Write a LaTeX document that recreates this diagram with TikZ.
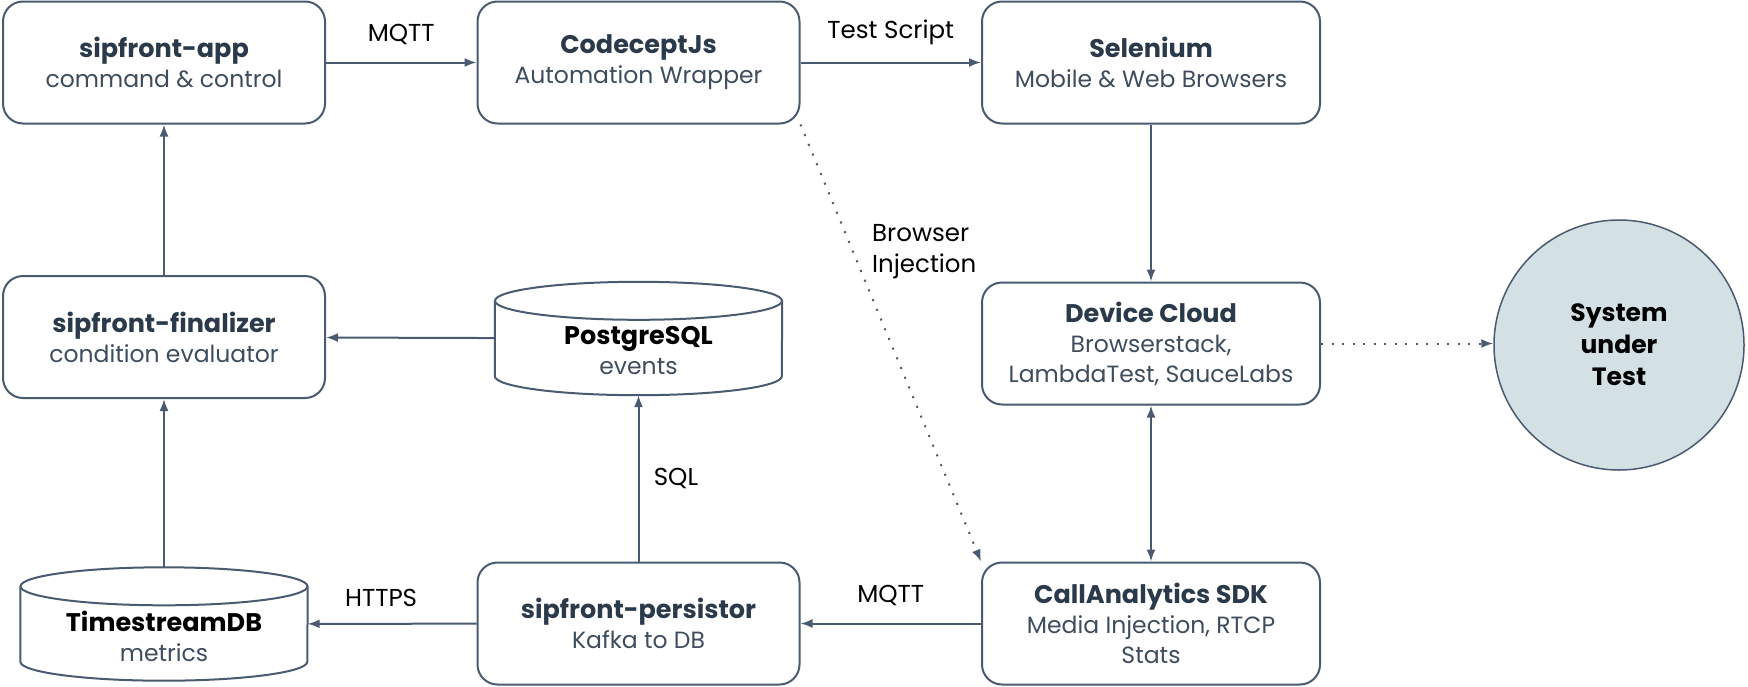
\documentclass[tikz,border=0pt]{standalone}
\usepackage{fontspec}
\setmainfont{Poppins}
\usetikzlibrary{arrows.meta}

\definecolor{edgecol}{HTML}{4A5A70}
\definecolor{titlecol}{HTML}{2B3A4A}
\definecolor{subcol}{HTML}{3E4C5E}
\definecolor{sutfill}{HTML}{D3E1E4}

\newcommand{\headline}[1]{\textcolor{titlecol}{\fontsize{25.5}{30}\selectfont\textbf{#1}}}

\begin{document}
\begin{tikzpicture}[x=1pt, y=-1pt,
    box/.style={rectangle, rounded corners=20pt, draw=edgecol, line width=2pt, minimum width=322pt, minimum height=122pt, align=center, text=subcol, font=\fontsize{23.5}{30}\selectfont},
    widebox/.style={box, minimum width=338pt},
    db/.style={rectangle, minimum width=287pt, minimum height=113pt, inner sep=0pt},
    dbtext/.style={yshift=-12pt, align=center, text=subcol, font=\fontsize{23.5}{30}\selectfont},
    dbline/.style={draw=edgecol, line width=2pt},
    link/.style={draw=edgecol, line width=2pt, -{Latex[length=12pt,width=9pt]}},
    inject/.style={link, line width=2pt, dash pattern=on 2pt off 8.5pt},
    tag/.style={text=black, font=\fontsize{24.5}{31}\selectfont}]

        \useasboundingbox (0,0) rectangle (1748,686);

        % --- TOP ROW ---
        \node[box] (app) at (164,62.5) {\headline{sipfront-app}\\command \& control};
        \node[box] (codecept) at (638.5,62.5) {\headline{CodeceptJs}\\Automation Wrapper};
        \node[widebox] (selenium) at (1151,62.5) {\headline{Selenium}\\Mobile \& Web Browsers};

        % --- MIDDLE ROW ---
        \node[box] (finalizer) at (164,337) {\headline{sipfront-finalizer}\\condition evaluator};
        \node[db, label={[dbtext]center:\headline{\color{black}PostgreSQL}\\events}] (postgres) at (638.5,338.5) {};
        \node[widebox] (device) at (1151,343.5) {\headline{Device Cloud}\\Browserstack,\\LambdaTest, SauceLabs};
        \node[circle, draw=edgecol, line width=1.5pt, fill=sutfill, minimum size=250pt, align=center, font=\fontsize{25}{32}\selectfont\bfseries] (sut) at (1619,345) {System\\under\\Test};

        % --- BOTTOM ROW ---
        \node[db, label={[dbtext]center:\headline{\color{black}TimestreamDB}\\metrics}] (timestream) at (164,624) {};
        \node[box] (persistor) at (638.5,623.5) {\headline{sipfront-persistor}\\Kafka to DB};
        \node[widebox] (callsdk) at (1151,623.5) {\headline{CallAnalytics SDK}\\Media Injection, RTCP\\Stats};

        % cylinder outlines
        \foreach \db in {postgres, timestream} {
            \draw[dbline] ([yshift=-19pt]\db.north) ellipse [x radius=143.5pt, y radius=19pt];
            \draw[dbline] ([yshift=-19pt]\db.north west) -- ([yshift=19pt]\db.south west)
                arc [start angle=180, end angle=360, x radius=143.5pt, y radius=19pt] -- ([yshift=-19pt]\db.north east);
        }

        % connectors
        \draw[link] (app) -- node[tag, above=13pt] {MQTT} (codecept);
        \draw[link] (codecept) -- node[tag, above=13pt] {Test Script} (selenium);
        \draw[link] (selenium) -- (device);
        \draw[link, {Latex[length=12pt,width=9pt]}-{Latex[length=12pt,width=9pt]}] (device) -- (callsdk);
        \draw[inject] (device) -- (sut.west |- device.east);
        \draw[inject] (codecept.south east) -- node[tag, align=left, right=15pt, pos=0.29] {Browser\\Injection} (callsdk.north west);
        \draw[link] (callsdk) -- node[tag, above=13pt] {MQTT} (persistor);
        \draw[link] (persistor) -- node[tag, above=13pt, xshift=-11pt] {HTTPS} (timestream);
        \draw[link] (persistor) -- node[tag, right=11pt] {SQL} (postgres);
        \draw[link] (postgres) -- (finalizer);
        \draw[link] (timestream) -- (finalizer);
        \draw[link] (finalizer) -- (app);

    \end{tikzpicture}
\end{document}
